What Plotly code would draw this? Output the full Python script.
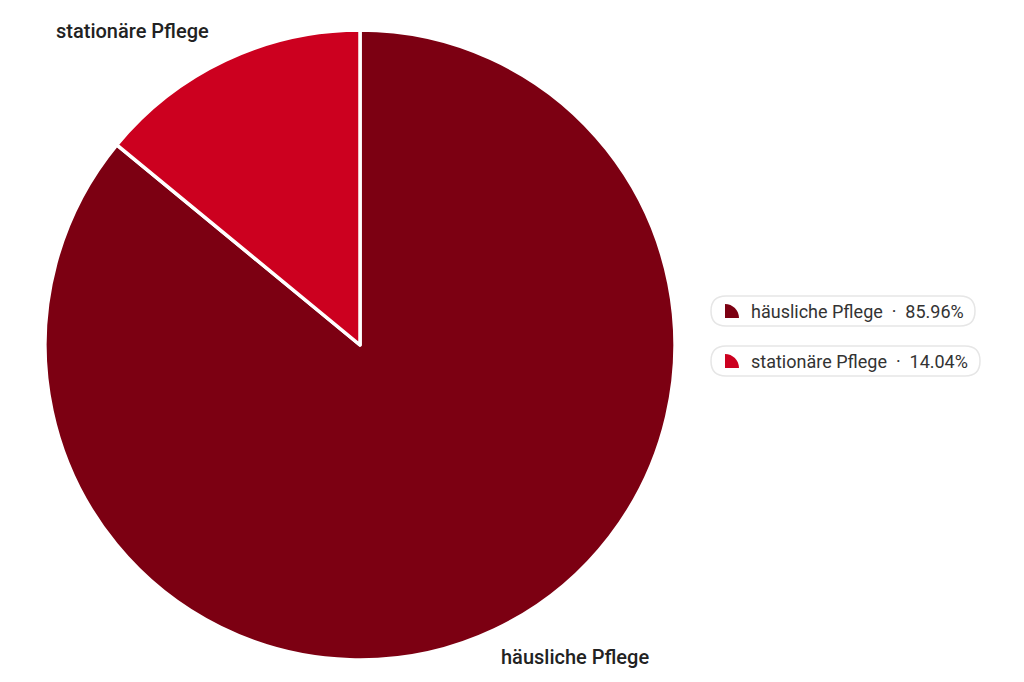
import plotly.graph_objects as go

# Share of care recipients by type of care
categories = ["häusliche Pflege", "stationäre Pflege"]
shares = [85.96, 14.04]
colors = ["#7c0012", "#cc001f"]

W, H = 1024, 682
OFF = 8  # page margin of the browser body


def pill_path(x0, y0, x1, y1, r):
    """Rounded rectangle as an SVG path (pixel coordinates)."""
    return (
        f"M{x0 + r},{y0} L{x1 - r},{y0} Q{x1},{y0} {x1},{y0 + r} "
        f"L{x1},{y1 - r} Q{x1},{y1} {x1 - r},{y1} "
        f"L{x0 + r},{y1} Q{x0},{y1} {x0},{y1 - r} "
        f"L{x0},{y0 + r} Q{x0},{y0} {x0 + r},{y0} Z"
    )


def sector_icon(x, y, s):
    """Small quarter-circle icon, corner at bottom-left (x, y)."""
    k = 0.5523 * s
    return (
        f"M{x},{y} L{x},{y - s} C{x + k},{y - s} {x + s},{y - k} {x + s},{y} Z"
    )


fig = go.Figure()

# screenshot pixel box of the pie: x 45..675, y 30..660
fig.add_trace(go.Pie(
    labels=categories,
    values=shares,
    marker=dict(colors=colors, line=dict(color="white", width=3.5)),
    sort=False,
    direction="clockwise",
    rotation=0,
    textinfo="none",
    hoverinfo="label+percent",
    showlegend=False,
    domain=dict(x=[(45 - OFF) / W, (675 - OFF) / W],
                y=[(H - (660 - OFF)) / H, (H - (30 - OFF)) / H]),
))

# hidden pixel axes for the custom legend and labels
fig.add_trace(go.Scatter(x=[OFF, W + OFF], y=[OFF, H + OFF], mode="markers",
                         marker=dict(opacity=0), hoverinfo="skip",
                         showlegend=False))

shapes = []
annotations = []

legend_rows = [311, 361]
pill_ends = [975, 980]
for name, value, color, yc, x1 in zip(categories, shares, colors,
                                       legend_rows, pill_ends):
    shapes.append(dict(
        type="path", xref="x", yref="y",
        path=pill_path(711, yc - 15, x1, yc + 15, 15),
        line=dict(color="#e6e6e6", width=1.5), fillcolor="white",
    ))
    shapes.append(dict(
        type="path", xref="x", yref="y",
        path=sector_icon(725, yc + 7, 14),
        line=dict(width=0), fillcolor=color,
    ))
    annotations.append(dict(
        x=749, y=yc, xref="x", yref="y", xanchor="left", yanchor="middle",
        text=f"{name}  ·  {value:.2f}%", showarrow=False,
        font=dict(family="Roboto", size=18, color="#333333"),
    ))

# outside slice labels
annotations.append(dict(
    x=54, y=31, xref="x", yref="y", xanchor="left", yanchor="middle",
    text=categories[1], showarrow=False,
    font=dict(family="Roboto", size=20, color="#222222", weight=500),
))
annotations.append(dict(
    x=499, y=657, xref="x", yref="y", xanchor="left", yanchor="middle",
    text=categories[0], showarrow=False,
    font=dict(family="Roboto", size=20, color="#222222", weight=500),
))

fig.update_layout(
    width=W, height=H,
    margin=dict(l=0, r=0, t=0, b=0),
    paper_bgcolor="white",
    plot_bgcolor="rgba(0,0,0,0)",
    xaxis=dict(range=[OFF, W + OFF], visible=False, fixedrange=True),
    yaxis=dict(range=[H + OFF, OFF], visible=False, fixedrange=True),
    shapes=shapes,
    annotations=annotations,
)

fig.write_html("out.html")
